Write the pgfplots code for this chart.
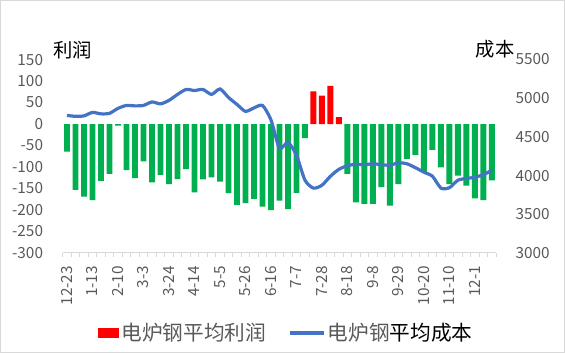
\documentclass[border=0pt]{standalone}
\usepackage{fontspec}
\setmainfont{Noto Sans CJK SC}
\usepackage{pgfplots}
\pgfplotsset{compat=1.18}
\definecolor{barg}{HTML}{00B050}
\definecolor{linb}{HTML}{4472C4}
\definecolor{txtg}{HTML}{595959}
\definecolor{axg}{HTML}{D9D9D9}
\begin{document}
\begin{tikzpicture}[x=1pt,y=1pt]
\path[use as bounding box] (0,0) rectangle (423.75,264.75);
\draw[axg, line width=0.75pt] (0.4,0.4) rectangle (423.35,264.35);
\node[text=black, font=\fontsize{14.5}{16}\selectfont] at (54.5,227.5) {利润};
\node[text=black, font=\fontsize{14.5}{16}\selectfont] at (371.25,227.5) {成本};
\begin{axis}[
  at={(47.06pt,75pt)}, anchor=south west, scale only axis,
  width=325.1pt, height=145.1pt,
  xmin=-0.5, xmax=50.5, ymin=-300, ymax=150,
  axis x line*=bottom, axis y line*=left,
  y axis line style={draw=none},
  x axis line style={axg, line width=0.75pt},
  ytick={-300,-250,...,150},
  major y tick style={draw=none},
  xtick={0,3,...,48},
  xticklabels={12-23,1-13,2-10,3-3,3-24,4-14,5-5,5-26,6-16,7-7,7-28,8-18,9-8,9-29,10-20,11-10,12-1},
  major x tick style={draw=none},
  minor xtick={-0.5,0.5,...,50.5},
  minor x tick style={axg, line width=0.75pt},
  minor tick length=3pt,
  tick align=outside,
  /pgf/number format/assume math mode=true,
  yticklabel style={font=\fontsize{11.5}{13}\selectfont, text=txtg, xshift=-7pt},
  xticklabel style={font=\fontsize{11.5}{12}\selectfont, text=txtg, rotate=90, anchor=east, xshift=-2pt},
]
\addplot[ybar, bar width=0.7, bar shift=0pt, fill=barg, draw=none] coordinates {
(0,-64) (1,-153) (2,-169) (3,-177) (4,-132) (5,-116) (6,-4) (7,-107) (8,-126) (9,-87)
(10,-136) (11,-118) (12,-140) (13,-128) (14,-105) (15,-159) (16,-129) (17,-124) (18,-134) (19,-161)
(20,-188) (21,-184) (22,-174) (23,-192) (24,-200) (25,-178) (26,-198) (27,-160) (28,-33)
(33,-116) (34,-182) (35,-186) (36,-186) (37,-147) (38,-190) (39,-140)
(40,-81) (41,-72) (42,-112) (43,-60) (44,-101) (45,-140) (46,-120) (47,-143) (48,-173) (49,-177) (50,-131)
};
\addplot[ybar, bar width=0.7, bar shift=0pt, fill=red, draw=none] coordinates {
(29,76) (30,66) (31,89) (32,16)
};
\end{axis}
\begin{axis}[
  at={(47.06pt,75pt)}, anchor=south west, scale only axis,
  width=325.1pt, height=145.1pt,
  xmin=-0.5, xmax=50.5, ymin=3000, ymax=5500,
  axis x line=none, axis y line*=right,
  y axis line style={draw=none},
  ytick={3000,3500,...,5500},
  major y tick style={draw=none},
  /pgf/number format/assume math mode=true,
  /pgf/number format/1000 sep={},
  yticklabel style={font=\fontsize{11.5}{13}\selectfont, text=txtg, xshift=11pt},
  legend columns=2,
  legend style={at={(0.5166,-0.4135)}, anchor=center, draw=none, fill=none,
    font=\fontsize{15.5}{17}\selectfont, text=txtg,
    /tikz/every even column/.append style={column sep=15pt}},
]
\addlegendimage{legend image code/.code={\fill[red] (0pt,-3.5pt) rectangle (15pt,3.5pt);}}
\addlegendentry{电炉钢平均利润}
\addplot[linb, line width=2.4pt, smooth, tension=0.4, no markers,
  legend image code/.code={\draw[linb, line width=2.4pt] (0pt,0pt) -- (25pt,0pt);}] coordinates {
(0,4778) (1,4766) (2,4772) (3,4817) (4,4798) (5,4804) (6,4869) (7,4907) (8,4901) (9,4907)
(10,4952) (11,4927) (12,4972) (13,5049) (14,5113) (15,5100) (16,5113) (17,5049) (18,5120) (19,5010)
(20,4920) (21,4830) (22,4875) (23,4907) (24,4720) (25,4353) (26,4430) (27,4263) (28,3941) (29,3838)
(30,3876) (31,3992) (32,4082) (33,4128) (34,4147) (35,4141) (36,4153) (37,4141) (38,4134) (39,4166)
(40,4153) (41,4102) (42,4044) (43,3992) (44,3838) (45,3844) (46,3941) (47,3963) (48,3979) (49,4012) (50,4070)
};
\addlegendentry{电炉钢{\color{black}平均成本}}
\end{axis}
\end{tikzpicture}
\end{document}
